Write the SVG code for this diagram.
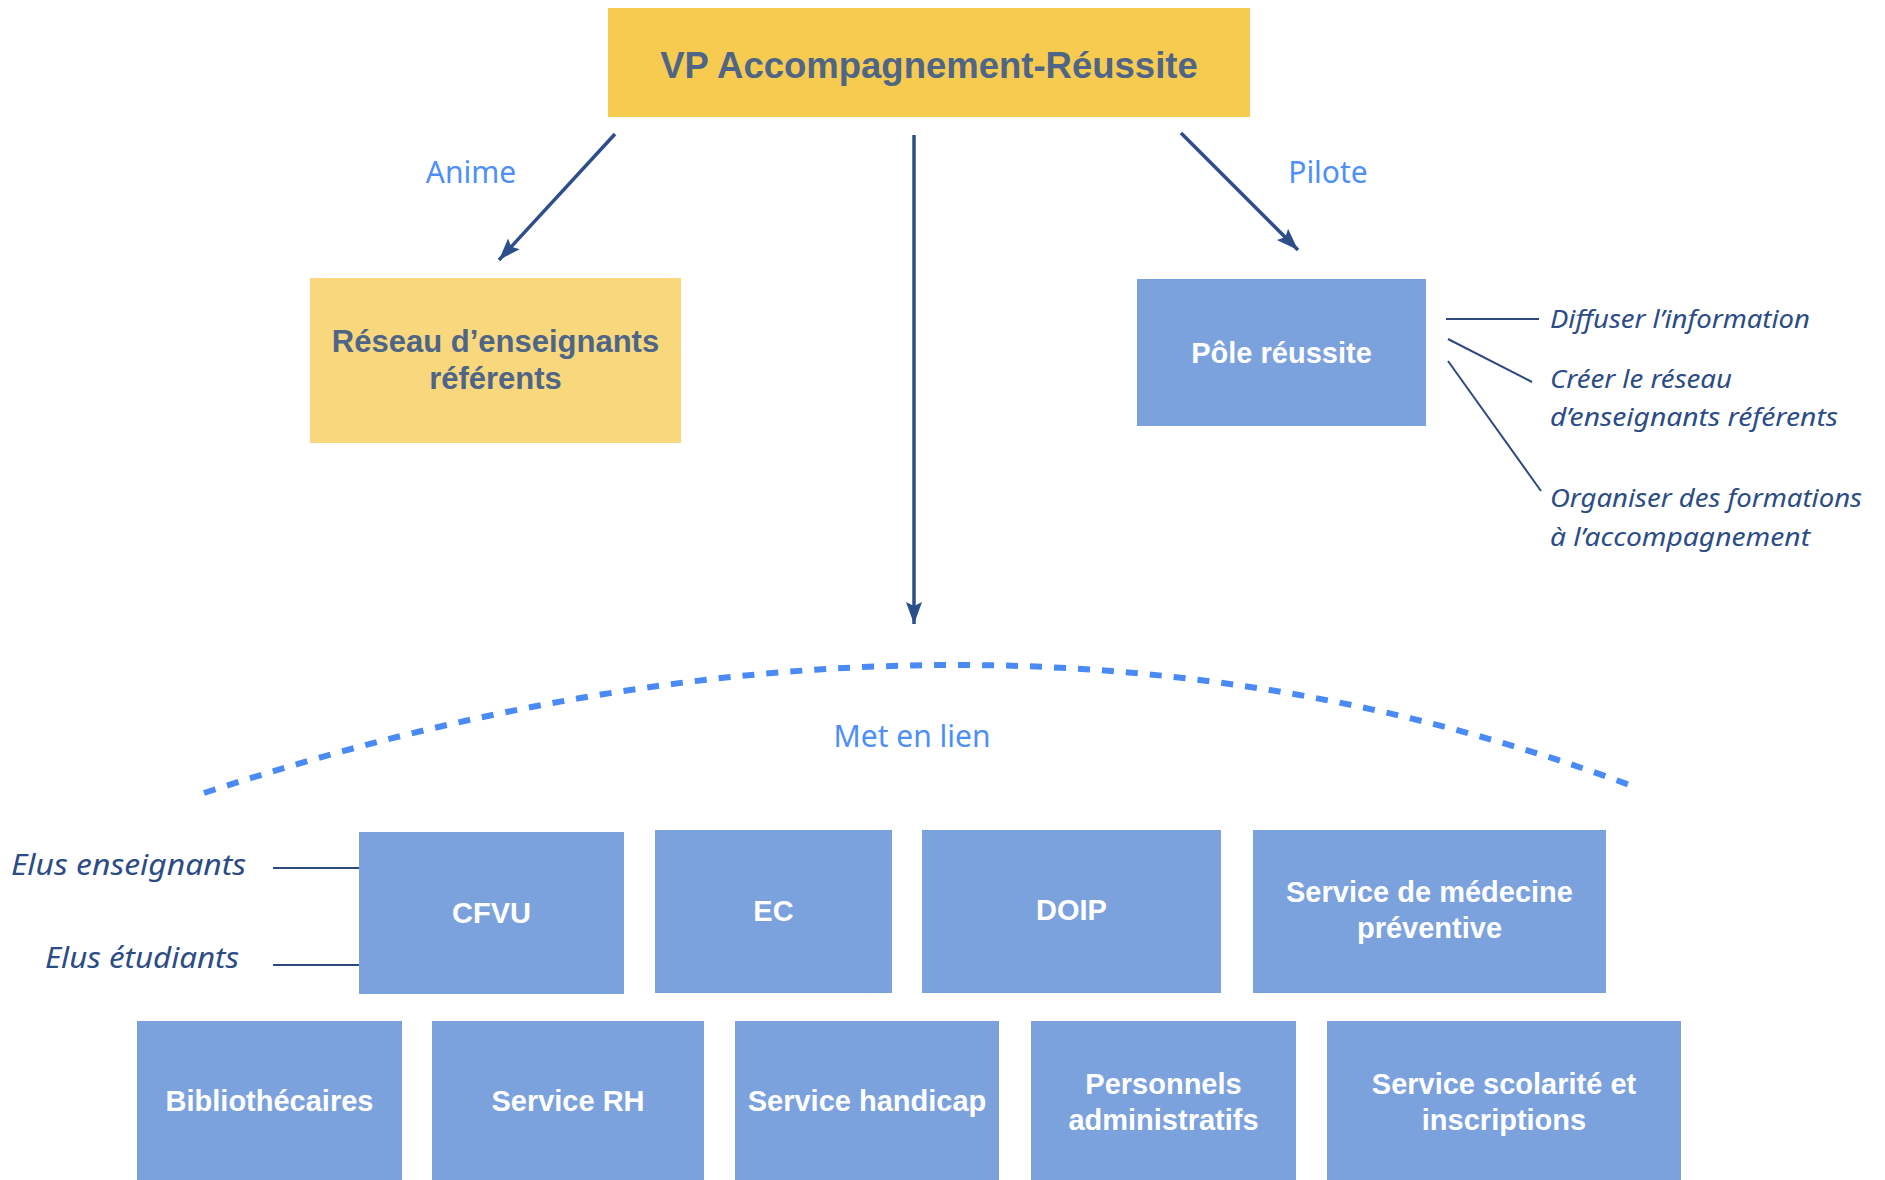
<svg xmlns="http://www.w3.org/2000/svg" width="1885" height="1180" viewBox="0 0 1885 1180">
<style>
.yb{fill:#F9D87D}
.bb{fill:#7CA2DE}
.yt{font-family:"Liberation Sans",Arial,sans-serif;font-weight:bold;fill:#4E6587;text-anchor:middle}
.bt{font-family:"Liberation Sans",Arial,sans-serif;font-weight:bold;font-size:29px;fill:#FFFFFF;text-anchor:middle}
.lbl{font-family:"Noto Sans","Open Sans",sans-serif;font-size:30px;fill:#4D8FF7;text-anchor:middle}
.it{font-family:"Noto Sans","Open Sans",sans-serif;font-style:italic;fill:#2B4C85}
.arr{stroke:#2C4F8C;stroke-width:3.5;fill:none;marker-end:url(#ah)}
.thin{stroke:#2E4A80;stroke-width:2;fill:none}
</style>
<defs>
<marker id="ah" markerUnits="userSpaceOnUse" markerWidth="24" markerHeight="18" refX="22" refY="8" orient="auto">
<path d="M0,0 L22,8 L0,16 L4,8 z" fill="#2C4F8C"/>
</marker>
</defs>
<rect width="1885" height="1180" fill="#FFFFFF"/>

<g id="connectors">
<path class="arr" d="M615,134 L499,260"/>
<path class="arr" d="M914,135 L914,624"/>
<path class="arr" d="M1181,133 L1298,250"/>
<path d="M204,793 Q974,540 1635,787" fill="none" stroke="#4A8AF4" stroke-width="6" stroke-dasharray="12 12"/>
<line class="thin" x1="1446" y1="319" x2="1539" y2="319"/>
<line class="thin" x1="1448" y1="339" x2="1532" y2="382"/>
<line class="thin" x1="1448" y1="361" x2="1541" y2="491"/>
<line class="thin" x1="273" y1="868" x2="359" y2="868" stroke-width="2.5"/>
<line class="thin" x1="273" y1="965" x2="359" y2="965" stroke-width="2.5"/>
</g>

<g id="labels">
<text class="lbl" x="471" y="183">Anime</text>
<text class="lbl" x="1328" y="183">Pilote</text>
<text class="lbl" x="912" y="747">Met en lien</text>
</g>

<g id="node-vp">
<rect x="608" y="8" width="642" height="109" fill="#F7CB4F"/>
<text class="yt" x="929" y="78" font-size="36.5">VP Accompagnement-Réussite</text>
</g>

<g id="node-reseau">
<rect class="yb" x="310" y="278" width="371" height="165"/>
<text class="yt" x="495.5" y="352" font-size="31">Réseau d’enseignants</text>
<text class="yt" x="495.5" y="389" font-size="31">référents</text>
</g>

<g id="node-pole">
<rect class="bb" x="1137" y="279" width="289" height="147"/>
<text class="bt" x="1281.5" y="363">Pôle réussite</text>
</g>

<g id="pole-tasks">
<text class="it" x="1550" y="328" font-size="26" textLength="260" lengthAdjust="spacingAndGlyphs">Diffuser l’information</text>
<text class="it" x="1550" y="388" font-size="26" textLength="182" lengthAdjust="spacingAndGlyphs">Créer le réseau</text>
<text class="it" x="1550" y="426" font-size="26" textLength="288" lengthAdjust="spacingAndGlyphs">d’enseignants référents</text>
<text class="it" x="1550" y="507" font-size="26" textLength="312" lengthAdjust="spacingAndGlyphs">Organiser des formations</text>
<text class="it" x="1550" y="546" font-size="26" textLength="260" lengthAdjust="spacingAndGlyphs">à l’accompagnement</text>
</g>

<g id="cfvu-members">
<text class="it" x="11" y="875" font-size="29" textLength="235" lengthAdjust="spacingAndGlyphs">Elus enseignants</text>
<text class="it" x="45" y="968" font-size="29" textLength="194" lengthAdjust="spacingAndGlyphs">Elus étudiants</text>
</g>

<g id="node-cfvu">
<rect class="bb" x="359" y="832" width="265" height="162"/>
<text class="bt" x="491.5" y="923">CFVU</text>
</g>
<g id="node-ec">
<rect class="bb" x="655" y="830" width="237" height="163"/>
<text class="bt" x="773.5" y="921">EC</text>
</g>
<g id="node-doip">
<rect class="bb" x="922" y="830" width="299" height="163"/>
<text class="bt" x="1071.5" y="920">DOIP</text>
</g>
<g id="node-medecine">
<rect class="bb" x="1253" y="830" width="353" height="163"/>
<text class="bt" x="1429.5" y="902">Service de médecine</text>
<text class="bt" x="1429.5" y="938">préventive</text>
</g>

<g id="node-biblio">
<rect class="bb" x="137" y="1021" width="265" height="159"/>
<text class="bt" x="269.5" y="1111">Bibliothécaires</text>
</g>
<g id="node-rh">
<rect class="bb" x="432" y="1021" width="272" height="159"/>
<text class="bt" x="568" y="1111">Service RH</text>
</g>
<g id="node-handicap">
<rect class="bb" x="735" y="1021" width="264" height="159"/>
<text class="bt" x="867" y="1111">Service handicap</text>
</g>
<g id="node-personnels">
<rect class="bb" x="1031" y="1021" width="265" height="159"/>
<text class="bt" x="1163.5" y="1094">Personnels</text>
<text class="bt" x="1163.5" y="1130">administratifs</text>
</g>
<g id="node-scolarite">
<rect class="bb" x="1327" y="1021" width="354" height="159"/>
<text class="bt" x="1504" y="1094">Service scolarité et</text>
<text class="bt" x="1504" y="1130">inscriptions</text>
</g>
</svg>
